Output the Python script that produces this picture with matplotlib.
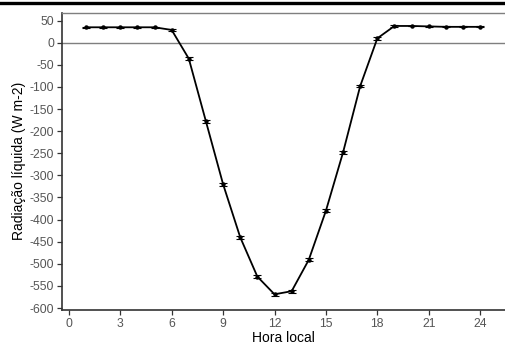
import matplotlib
matplotlib.use("Agg")
import matplotlib.pyplot as plt
from matplotlib.lines import Line2D

plt.rcParams['font.family'] = ['Liberation Sans', 'DejaVu Sans']

hours = [1, 2, 3, 4, 5, 6, 7, 8, 9, 10, 11, 12, 13, 14, 15, 16, 17, 18, 19, 20, 21, 22, 23, 24]
rn_mean = [35, 35, 35, 35, 35, 29, -36, -178, -320, -440, -529, -569, -562, -491,
           -380, -248, -98, 10, 38, 38, 37, 36, 36, 36]
rn_err = [1, 1, 1, 1, 1, 2, 3, 3, 3, 3, 3, 3, 3, 3, 3, 3, 3, 3, 2, 1, 1, 1, 1, 1]

xticks = [0, 3, 6, 9, 12, 15, 18, 21, 24]
yticks = list(range(-600, 51, 50))

fig = plt.figure(figsize=(5.05, 3.5), dpi=100)
ax = fig.add_axes([62 / 505, 1 - 310 / 350, 1 - 62 / 505, (310 - 12.7) / 350])

ax.axhline(0, color='#7f7f7f', lw=1.0, zorder=1)
ax.errorbar(hours, rn_mean, yerr=rn_err, color='black', lw=1.3, ecolor='black',
            elinewidth=0.8, capsize=3, capthick=0.8, marker='o', markersize=2.2, zorder=3)

ax.set_xlim(-0.4, 25.45)
ax.set_ylim(-604.5, 68)
ax.set_xticks(xticks)
ax.set_yticks(yticks)
ax.set_yticklabels([str(v) for v in yticks])

for side in ['left', 'bottom']:
    ax.spines[side].set_color('#333333')
    ax.spines[side].set_linewidth(1.2)
ax.spines['right'].set_visible(False)
ax.spines['top'].set_color('#7f7f7f')
ax.spines['top'].set_linewidth(1.0)

ax.tick_params(axis='both', colors='#333333', labelcolor='#555555', labelsize=8.7,
               length=3.5, width=0.9, pad=2)

ax.set_xlabel('Hora local', fontsize=10, color='black', labelpad=1)
ax.set_ylabel('Radiação líquida (W m-2)', fontsize=10, color='black', labelpad=3)

fig.add_artist(Line2D([0, 1], [1 - 3 / 350, 1 - 3 / 350], transform=fig.transFigure,
                      color='black', lw=2.4))

fig.savefig('out.png', dpi=100)
